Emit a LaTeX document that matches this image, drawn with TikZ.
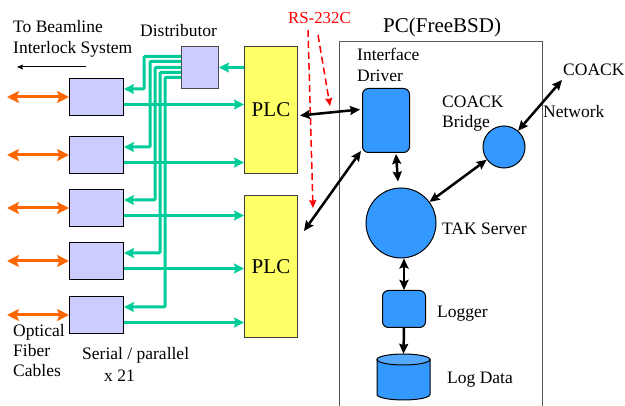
\documentclass[tikz,border=0pt]{standalone}
\usepackage{fontspec}
\setmainfont{Liberation Serif}
\newfontfamily\lblfont{Liberation Serif}
\usetikzlibrary{arrows.meta,calc}
\definecolor{lav}{HTML}{CCCCFF}
\definecolor{plcy}{HTML}{FFFF66}
\definecolor{pblue}{HTML}{3399FF}
\definecolor{ltblue}{HTML}{55AAFF}
\definecolor{grn}{HTML}{00CC99}
\definecolor{org}{HTML}{FF6600}
\begin{document}
\begin{tikzpicture}[x=1pt,y=-1pt,
  box/.style={draw=black, line width=1pt, inner sep=0pt, anchor=north west},
  serbox/.style={box, fill=lav, minimum width=54pt, minimum height=37pt},
  plcbox/.style={box, fill=plcy, draw=black!75, minimum width=53pt, font=\lblfont\fontsize{21}{24}\selectfont},
  bluebox/.style={box, fill=pblue, rounded corners=6pt},
  bluecirc/.style={circle, draw=black, line width=1pt, fill=pblue, inner sep=0pt},
  txt/.style={font=\lblfont\fontsize{17.5}{21}\selectfont, inner sep=0pt, anchor=base west},
  garrow/.style={draw=grn, line width=3pt, -{Stealth[length=10pt,width=10pt,inset=1.5pt]}},
  oarrow/.style={draw=org, line width=3pt, {Stealth[length=12pt,width=12pt,inset=2.5pt]}-{Stealth[length=12pt,width=12pt,inset=2.5pt]}},
  barrow/.style={draw=black, line width=2.5pt, {Stealth[length=10pt,width=9pt,inset=1.5pt]}-{Stealth[length=10pt,width=9pt,inset=1.5pt]}},
  bsingle/.style={draw=black, line width=2.5pt, -{Stealth[length=10pt,width=9pt,inset=1.5pt]}},
  thinarrow/.style={draw=black, line width=1pt, -{Stealth[length=6pt,width=5pt,inset=1pt]}},
  rsarrow/.style={draw=red, line width=1.5pt, dash pattern=on 7pt off 4pt, -{Stealth[length=8pt,width=7pt,inset=1pt]}}]
\useasboundingbox (0,0) rectangle (625,406);

% PC frame
\node[box, draw=black!65, line width=1.2pt, minimum width=203pt, minimum height=372pt] (pc) at (339,41) {};

% serial/parallel boxes
\node[serbox] (s1) at (69,78) {};
\node[serbox] (s2) at (69,136) {};
\node[serbox] (s3) at (69,189) {};
\node[serbox] (s4) at (69,242) {};
\node[serbox] (s5) at (69,296) {};
\node[box, fill=lav, draw=black!70, minimum width=37pt, minimum height=42pt] (dist) at (181,46) {};
\node[plcbox, minimum height=127pt] (plc1) at (244,46) {PLC};
\node[plcbox, minimum height=142pt] (plc2) at (244,195) {PLC};

% PC internals
\node[bluebox, minimum width=47pt, minimum height=64pt] (drv) at (362,88) {};
\node[bluecirc, minimum size=42pt] (bridge) at (504,147) {};
\node[bluecirc, minimum size=70pt] (tak) at (401,223) {};
\node[bluebox, minimum width=43pt, minimum height=37pt] (logger) at (382,290) {};
\node[inner sep=0pt, minimum width=53pt, minimum height=46pt] (logdata) at (403.5,377) {};
\draw[fill=pblue, line width=1pt] (377,359.5) -- (377,394.5) arc[start angle=180, end angle=0, x radius=26.5, y radius=5.5] -- (430,359.5) -- cycle;
\draw[fill=ltblue, line width=1pt] (403.5,359.5) ellipse [x radius=26.5, y radius=5.5];

% texts
\node[txt] (tb1) at (13,33) {To Beamline};
\node[txt] (tb2) at (13,54) {Interlock System};
\node[txt] (distl) at (140,37) {Distributor};
\node[txt, text=red, font=\lblfont\fontsize{16.8}{19}\selectfont] (rs) at (288,24) {RS-232C};
\node[txt, font=\lblfont\fontsize{21}{24}\selectfont] (pcl) at (383,33) {PC(FreeBSD)};
\node[txt] (if1) at (357,61) {Interface};
\node[txt] (if2) at (357,82) {Driver};
\node[txt] (cb1) at (442,108) {COACK};
\node[txt] (cb2) at (442,128) {Bridge};
\node[txt] (coack) at (563,76) {COACK};
\node[txt] (net) at (543,118) {Network};
\node[txt] (takl) at (442,235) {TAK Server};
\node[txt] (logl) at (437,318) {Logger};
\node[txt] (ldl) at (447,384) {Log Data};
\node[txt] (of1) at (13,337) {Optical};
\node[txt] (of2) at (13,357) {Fiber};
\node[txt] (of3) at (13,377) {Cables};
\node[txt] (sp1) at (82,360) {Serial / parallel};
\node[txt] (sp2) at (104,382) {x 21};

% coordinates for free ends
\coordinate (tbs) at (86,67);
\coordinate (tbe) at (17,67);
\coordinate (r1s) at (308,30);
\coordinate (r1e) at (313,208);
\coordinate (r2s) at (318,35);
\coordinate (r2e) at (330,106);
\coordinate (coackpt) at (562,80);

% thin arrow to beamline interlock
\draw[thinarrow] (tbs) -- (tbe);

% orange fiber arrows
\foreach \b in {s1,s2,s3,s4,s5}{
  \draw[oarrow] ($(\b.west)+(-62,0)$) -- (\b.west);
}

% green: PLC -> distributor
\draw[garrow] (plc1.west |- dist.east) -- (dist.east);
% green: distributor -> boxes
\draw[garrow, rounded corners=1pt] ($(dist.west)+(0,-11)$) -| ($(s1.east)+(20,-8)$) -- ($(s1.east)+(0,-8)$);
\draw[garrow, rounded corners=1pt] ($(dist.west)+(0,-6)$) -| ($(s2.east)+(26,-8)$) -- ($(s2.east)+(0,-8)$);
\draw[garrow, rounded corners=1pt] ($(dist.west)+(0,0)$) -| ($(s3.east)+(31,-8)$) -- ($(s3.east)+(0,-8)$);
\draw[garrow, rounded corners=1pt] ($(dist.west)+(0,5)$) -| ($(s4.east)+(36,-8)$) -- ($(s4.east)+(0,-8)$);
\draw[garrow, rounded corners=1pt] ($(dist.west)+(0,10)$) -| ($(s5.east)+(41,-8)$) -- ($(s5.east)+(0,-8)$);
% green: boxes -> PLCs
\draw[garrow] ($(s1.east)+(0,7.5)$) coordinate (g1) -- (g1 -| plc1.west);
\draw[garrow] ($(s2.east)+(0,7.5)$) coordinate (g2) -- (g2 -| plc1.west);
\draw[garrow] ($(s3.east)+(0,7.5)$) coordinate (g3) -- (g3 -| plc2.west);
\draw[garrow] ($(s4.east)+(0,7.5)$) coordinate (g4) -- (g4 -| plc2.west);
\draw[garrow] ($(s5.east)+(0,7.5)$) coordinate (g5) -- (g5 -| plc2.west);

% red RS-232C dashed arrows
\draw[rsarrow] (r1s) -- (r1e);
\draw[rsarrow] (r2s) -- (r2e);

% black arrows
\draw[barrow] ($(plc1.east)+(2,5.5)$) -- ($(drv.west)+(-2,-11)$);
\draw[barrow] ($(drv.south west)+(-1,-2)$) -- ($(plc2.north east)+(6,36)$);
\draw[barrow] ($(drv.south)+(10,1)$) -- ($(tak.north)+(-3,-6)$);
\draw[barrow] (tak) -- (bridge);
\draw[barrow] (bridge) -- (coackpt);
\draw[barrow] (logger.north |- tak.south) -- (logger.north);
\draw[bsingle] (logger.south) -- (logdata.north);
\end{tikzpicture}
\end{document}
